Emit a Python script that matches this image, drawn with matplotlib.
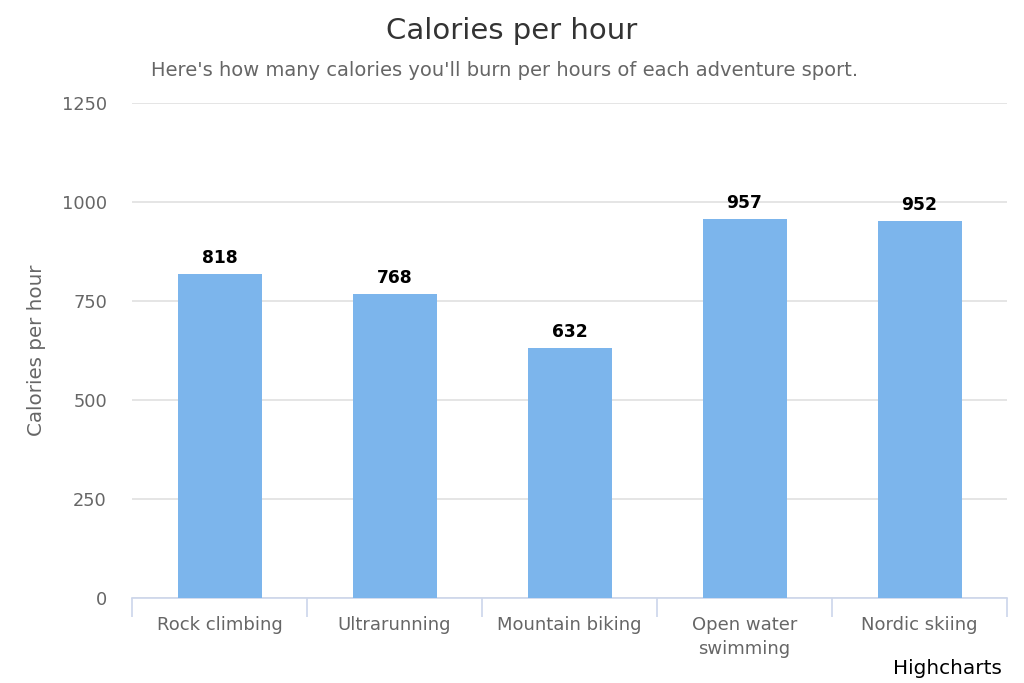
import numpy as np
import matplotlib.pyplot as plt

# data
sports = ["Rock climbing", "Ultrarunning", "Mountain biking", "Open water\nswimming", "Nordic skiing"]
calories = [818, 768, 632, 957, 952]
y_ticks = [0, 250, 500, 750, 1000, 1250]

plt.rcParams['font.family'] = ['DejaVu Sans']

fig = plt.figure(figsize=(10.24, 6.83), dpi=100)
ax = fig.add_axes([132/1024, 1 - 598/683, 875/1024, (598 - 103)/683])

x = np.arange(len(sports))
ax.bar(x, calories, width=0.48, color='#7cb5ec', zorder=3)
for xi, v in zip(x, calories):
    ax.text(xi, v + 18, str(v), ha='center', va='bottom', fontsize=12.3,
            fontweight='bold', color='#000000', zorder=4)

ax.set_xlim(-0.5, len(sports) - 0.5)
ax.set_ylim(0, 1250)
ax.set_yticks(y_ticks)
ax.set_yticklabels([str(t) for t in y_ticks], fontsize=12.8, color='#666666')
ax.yaxis.grid(True, color='#e0e0e0', linewidth=1.2, zorder=0)
ax.tick_params(axis='y', length=0, pad=18)

# category labels centred, tick marks on boundaries
ax.set_xticks(x)
ax.set_xticklabels(sports, fontsize=13, color='#666666', linespacing=1.45)
ax.tick_params(axis='x', length=0, pad=13)
ax.set_xticks(np.arange(len(sports) + 1) - 0.5, minor=True)
ax.tick_params(axis='x', which='minor', length=14, color='#ccd6eb', width=1.2)

for s in ['top', 'right', 'left']:
    ax.spines[s].set_visible(False)
ax.spines['bottom'].set_color('#ccd6eb')
ax.spines['bottom'].set_linewidth(1.2)

ax.set_ylabel("Calories per hour", fontsize=14.3, color='#666666')
ax.yaxis.set_label_coords(-86/875, 0.5)

fig.text(0.5, 1 - 31/683, "Calories per hour", ha='center', va='center',
         fontsize=21, color='#333333')
fig.text(505/1024, 1 - 71/683, "Here's how many calories you'll burn per hours of each adventure sport.",
         ha='center', va='center', fontsize=14, color='#666666')
fig.text(1002/1024, 1 - 668/683, "Highcharts", ha='right', va='center',
         fontsize=14.4, color='#000000')

fig.savefig('out.png', dpi=100)
